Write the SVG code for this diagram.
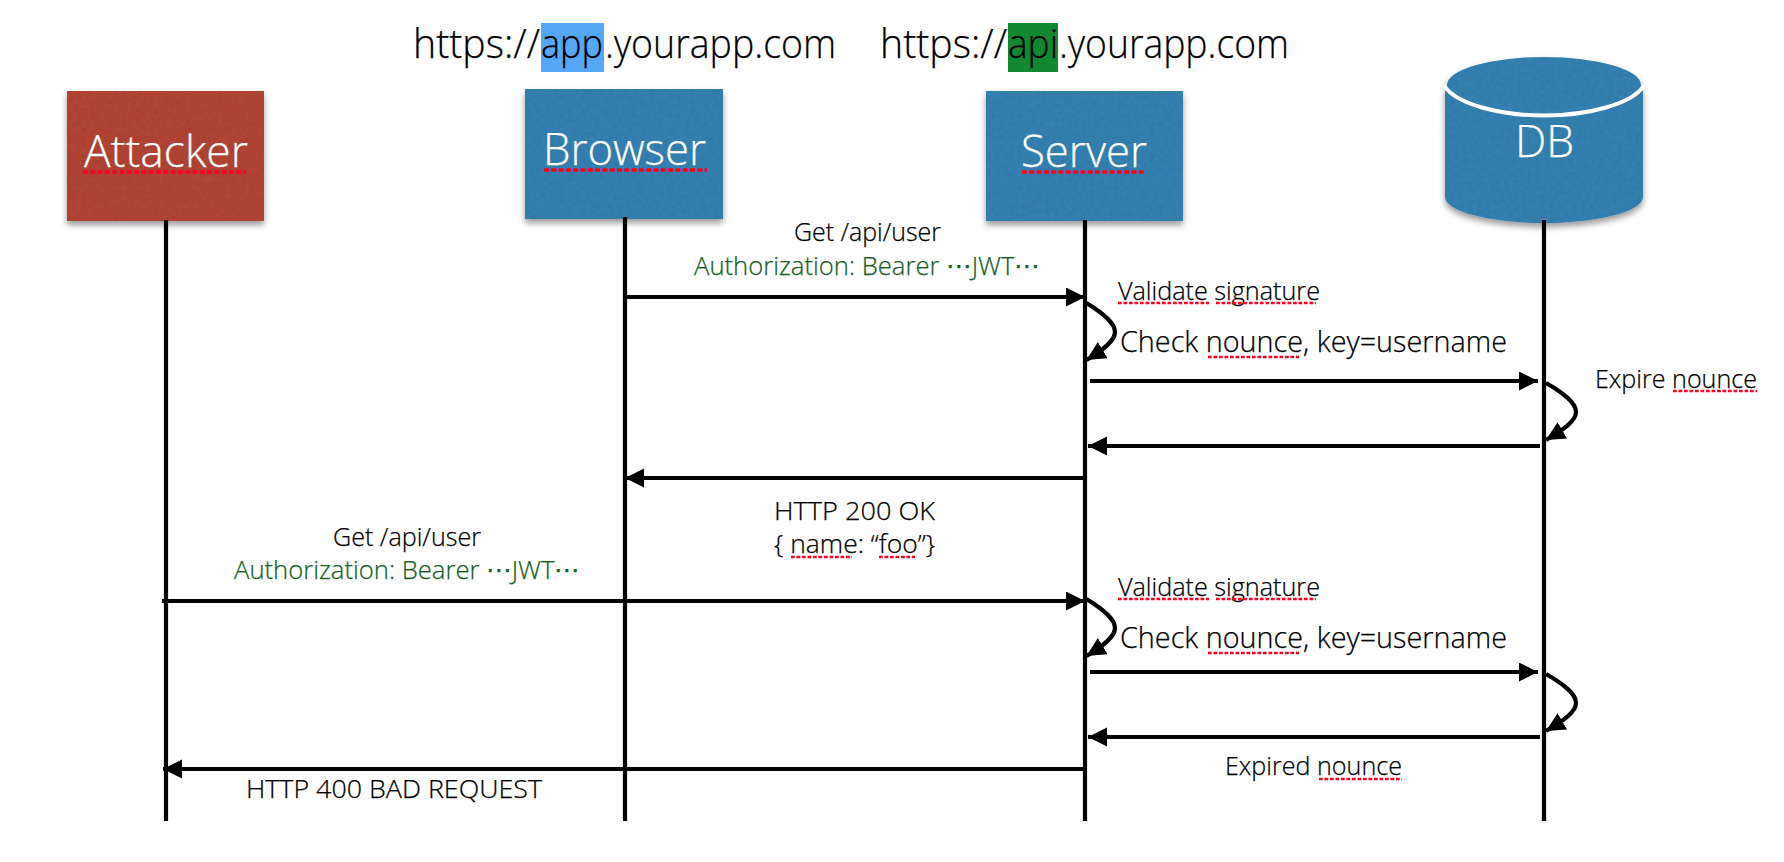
<svg xmlns="http://www.w3.org/2000/svg" width="1784" height="862" viewBox="0 0 1784 862">
<style>
text{font-family:"Open Sans","Noto Sans",sans-serif;font-weight:300;fill:#000;stroke:#000;stroke-width:.25px}
.t{font-size:40px}
.n{font-size:45px;fill:#fff;stroke:#fff}
.s{font-size:26px}
.m{font-size:29px}
.g{fill:#14601f;stroke:#14601f}
.ln{stroke:#000;stroke-width:4.200;fill:none}
.c{stroke:#000;stroke-width:4.200;fill:none}
.u{stroke:#ff0020;stroke-width:2.600;stroke-dasharray:3.700 1.800;fill:none}
.ub{stroke:#ff0020;stroke-width:3.300;stroke-dasharray:5 2.300;fill:none}
.blue{fill:#3480b0}
.red{fill:#b04536}
</style>
<defs>
<marker id="a" markerUnits="userSpaceOnUse" markerWidth="20" markerHeight="20" refX="19" refY="9.5" orient="auto"><path d="M0 0L19 9.5L0 19Z" fill="#000"/></marker>
<filter id="paper" x="-5%" y="-5%" width="110%" height="115%">
<feTurbulence type="fractalNoise" baseFrequency="0.22" numOctaves="4" seed="4" result="n"/>
<feColorMatrix in="n" type="matrix" values="0 0 0 0 0  0 0 0 0 0  0 0 0 0 0  0 0 0 0.22 -0.08" result="d"/>
<feComposite in="d" in2="SourceAlpha" operator="in" result="tex"/>
<feDropShadow in="SourceGraphic" dx="0" dy="4" stdDeviation="3" flood-color="#000" flood-opacity="0.4" result="sh"/>
<feMerge><feMergeNode in="sh"/><feMergeNode in="tex"/></feMerge>
</filter>
</defs>
<rect width="1784" height="862" fill="#fff"/>

<g id="titles">
<rect x="541" y="23" width="63" height="49" fill="#55a7f8"/>
<rect x="1008" y="23" width="50" height="49" fill="#128732"/>
<text class="t" y="58"><tspan x="413" textLength="127" lengthAdjust="spacingAndGlyphs">https://</tspan><tspan x="541" textLength="62" lengthAdjust="spacingAndGlyphs">app</tspan><tspan x="605" textLength="231" lengthAdjust="spacingAndGlyphs">.yourapp.com</tspan></text>
<text class="t" y="58"><tspan x="880" textLength="127" lengthAdjust="spacingAndGlyphs">https://</tspan><tspan x="1008" textLength="50" lengthAdjust="spacingAndGlyphs">api</tspan><tspan x="1059" textLength="230" lengthAdjust="spacingAndGlyphs">.yourapp.com</tspan></text>
</g>

<g id="attacker">
<rect class="red" x="67" y="91" width="197" height="130" filter="url(#paper)"/>
<text class="n" x="84" y="167" textLength="164" lengthAdjust="spacingAndGlyphs">Attacker</text>
<path class="ub" d="M83 172H246"/>
</g>
<g id="browser">
<rect class="blue" x="525" y="89" width="198" height="130" filter="url(#paper)"/>
<text class="n" x="543" y="165" textLength="163" lengthAdjust="spacingAndGlyphs">Browser</text>
<path class="ub" d="M544 170H707"/>
</g>
<g id="server">
<rect class="blue" x="986" y="91" width="197" height="130" filter="url(#paper)"/>
<text class="n" x="1021" y="167" textLength="126" lengthAdjust="spacingAndGlyphs">Server</text>
<path class="ub" d="M1022 172H1146"/>
</g>
<g id="db">
<path class="blue" d="M1447 85A97 28 0 0 1 1641 85L1643 92V197A99 26 0 0 1 1445 197V92Z" filter="url(#paper)"/>
<path d="M1444.500 86C1456 104 1500 115.500 1544 115.500C1588 115.500 1632 104 1643.500 86" fill="none" stroke="#fff" stroke-width="4"/>
<text class="n" x="1515" y="157" textLength="59" lengthAdjust="spacingAndGlyphs">DB</text>
</g>

<g id="connectors">
<path class="ln" d="M166 220V821M625 217V821M1085 220V821M1544 220V821"/>
<path class="c" d="M625 297H1085" marker-end="url(#a)"/>
<path class="c" d="M1090 381H1538" marker-end="url(#a)"/>
<path class="c" d="M1540 446H1088" marker-end="url(#a)"/>
<path class="c" d="M1085 478H625" marker-end="url(#a)"/>
<path class="c" d="M162 601H1085" marker-end="url(#a)"/>
<path class="c" d="M1090 672H1538" marker-end="url(#a)"/>
<path class="c" d="M1540 737H1088" marker-end="url(#a)"/>
<path class="c" d="M1085 769H163" marker-end="url(#a)"/>
<path class="c" d="M1086.500 303C1104 314 1115 323 1115 332C1115 341 1103 350 1086.500 360" marker-end="url(#a)"/>
<path class="c" d="M1546 383C1565 394 1576 403 1576 412C1576 421 1563 430 1546 440" marker-end="url(#a)"/>
<path class="c" d="M1086.500 599C1104 610 1115 619 1115 628C1115 637 1103 646 1086.500 656" marker-end="url(#a)"/>
<path class="c" d="M1546 674C1565 685 1576 694 1576 703C1576 712 1563 721 1546 731" marker-end="url(#a)"/>
</g>

<g id="labels">
<text class="s" x="794" y="241" textLength="147" lengthAdjust="spacingAndGlyphs">Get /api/user</text>
<text class="s g" x="694" y="275" textLength="346" lengthAdjust="spacingAndGlyphs">Authorization: Bearer ⋯JWT⋯</text>
<text class="s" x="1118" y="300" textLength="202" lengthAdjust="spacingAndGlyphs">Validate signature</text>
<path class="u" d="M1118 303H1209M1216 303H1316"/>
<text class="m" x="1120" y="352" textLength="387" lengthAdjust="spacingAndGlyphs">Check nounce, key=username</text>
<path class="u" d="M1208 357H1299"/>
<text class="s" x="1595" y="388" textLength="162" lengthAdjust="spacingAndGlyphs">Expire nounce</text>
<path class="u" d="M1673 391H1757"/>
<text class="s" x="774" y="520" textLength="161" lengthAdjust="spacingAndGlyphs">HTTP 200 OK</text>
<text class="s" x="774" y="553" textLength="161" lengthAdjust="spacingAndGlyphs">{ name: “foo”}</text>
<path class="u" d="M791 557H852M879 557H915"/>
<text class="s" x="333" y="546" textLength="148" lengthAdjust="spacingAndGlyphs">Get /api/user</text>
<text class="s g" x="234" y="579" textLength="346" lengthAdjust="spacingAndGlyphs">Authorization: Bearer ⋯JWT⋯</text>
<text class="s" x="1118" y="596" textLength="202" lengthAdjust="spacingAndGlyphs">Validate signature</text>
<path class="u" d="M1118 599H1209M1216 599H1316"/>
<text class="m" x="1120" y="648" textLength="387" lengthAdjust="spacingAndGlyphs">Check nounce, key=username</text>
<path class="u" d="M1208 653H1299"/>
<text class="s" x="1225" y="775" textLength="177" lengthAdjust="spacingAndGlyphs">Expired nounce</text>
<path class="u" d="M1319 779H1402"/>
<text class="s" x="246" y="798" textLength="296" lengthAdjust="spacingAndGlyphs">HTTP 400 BAD REQUEST</text>
</g>
</svg>
